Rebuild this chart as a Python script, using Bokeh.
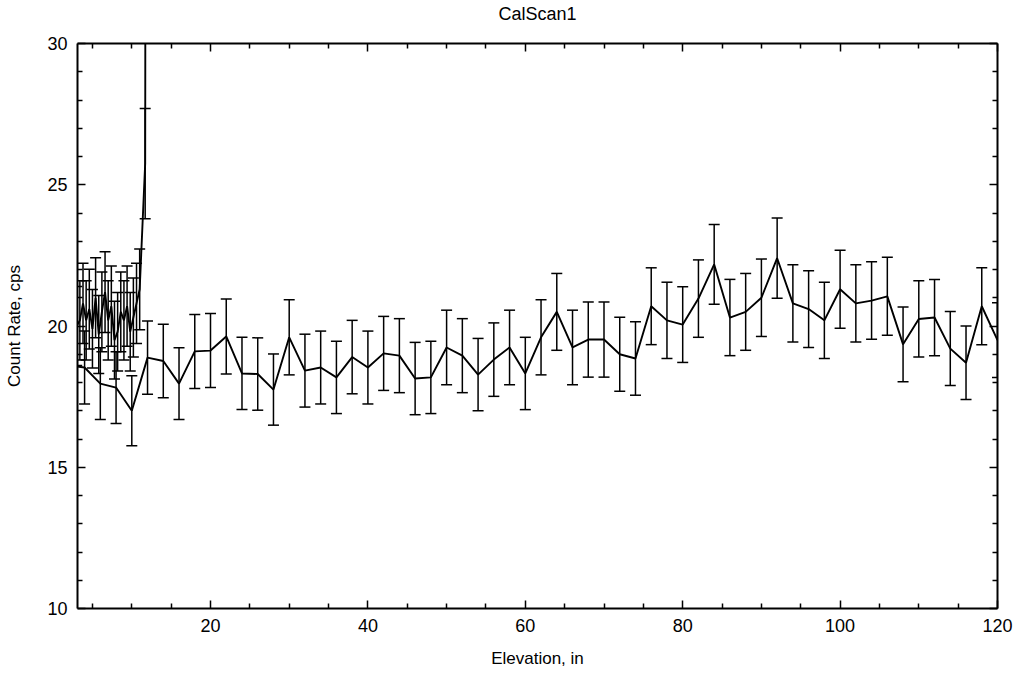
from bokeh.plotting import figure
from bokeh.models import ColumnDataSource, Whisker, TeeHead, LinearAxis, Range1d, FixedTicker
from bokeh.embed import file_html
from bokeh.resources import INLINE

# Main scan (every 2 in)
elev_main = [2, 4, 6, 8, 10, 12, 14, 16, 18, 20, 22, 24, 26, 28, 30, 32, 34, 36, 38, 40,
             42, 44, 46, 48, 50, 52, 54, 56, 58, 60, 62, 64, 66, 68, 70, 72, 74, 76, 78, 80,
             82, 84, 86, 88, 90, 92, 94, 96, 98, 100, 102, 104, 106, 108, 110, 112, 114, 116, 118, 120]
rate_main = [18.6, 18.53, 17.96, 17.82, 17.0, 18.88, 18.76, 17.96, 19.1, 19.13,
             19.63, 18.32, 18.3, 17.75, 19.6, 18.42, 18.53, 18.18, 18.9, 18.53,
             19.03, 18.95, 18.14, 18.18, 19.24, 18.95, 18.28, 18.81, 19.24, 18.32,
             19.6, 20.5, 19.24, 19.52, 19.52, 19.0, 18.85, 20.7, 20.2, 20.05,
             20.97, 22.18, 20.3, 20.5, 21.0, 22.4, 20.8, 20.6, 20.2, 21.3,
             20.8, 20.9, 21.05, 19.35, 20.25, 20.3, 19.2, 18.7, 20.7, 19.5]
err_main = [1.29, 1.29, 1.27, 1.27, 1.24, 1.30, 1.30, 1.27, 1.31, 1.31,
            1.33, 1.28, 1.28, 1.26, 1.33, 1.29, 1.29, 1.28, 1.30, 1.29,
            1.31, 1.31, 1.28, 1.28, 1.32, 1.31, 1.28, 1.30, 1.32, 1.28,
            1.33, 1.36, 1.32, 1.33, 1.33, 1.31, 1.30, 1.36, 1.35, 1.34,
            1.37, 1.41, 1.35, 1.36, 1.37, 1.42, 1.37, 1.36, 1.35, 1.38,
            1.37, 1.37, 1.38, 1.32, 1.35, 1.35, 1.31, 1.30, 1.36, 1.32]

# Dense start-up scan near the bottom
elev_dense = [3.0, 3.4, 3.8, 4.2, 4.6, 5.0, 5.4, 5.8, 6.2, 6.6, 7.0, 7.4, 7.8, 8.2, 8.6,
              9.0, 9.4, 9.8, 10.2, 10.6, 11.0, 11.7, 11.9]
rate_dense = [20.0, 20.2, 20.8, 20.2, 20.6, 19.9, 21.0, 19.7, 20.5, 21.2, 20.2, 20.7,
              19.5, 19.8, 20.5, 20.2, 20.7, 19.8, 20.3, 20.8, 21.3, 25.75, 80.0]
err_dense = [1.40, 1.40, 1.42, 1.40, 1.41, 1.39, 1.42, 1.38, 1.41, 1.43, 1.40, 1.42,
             1.38, 1.39, 1.41, 1.40, 1.42, 1.39, 1.40, 1.42, 1.43, 1.95, 2.5]

title_text = "CalScan1"
x_min, x_max = 3.1, 120
y_min, y_max = 10, 30

FONT = "Liberation Sans"

p = figure(width=1017, height=681, output_backend="svg", toolbar_location=None, title=None,
           x_range=Range1d(x_min, x_max), y_range=Range1d(y_min, y_max),
           min_border_left=77, min_border_right=20, min_border_top=43, min_border_bottom=73,
           background_fill_color="white", border_fill_color="white")
p.outline_line_color = None
p.grid.visible = False

def style_axis(ax, labels=True):
    ax.axis_line_width = 2
    ax.axis_line_color = "black"
    ax.major_tick_in = 8
    ax.major_tick_out = 0
    ax.minor_tick_in = 5
    ax.minor_tick_out = 0
    ax.major_tick_line_width = 1.5
    ax.minor_tick_line_width = 1.5
    ax.major_tick_line_color = "black"
    ax.minor_tick_line_color = "black"
    ax.major_label_text_font = FONT
    ax.major_label_text_font_size = "18px"
    ax.major_label_text_color = "black"
    ax.axis_label_text_font = FONT
    ax.axis_label_text_font_size = "17px"
    ax.axis_label_text_font_style = "normal"
    ax.axis_label_text_color = "black"
    if not labels:
        ax.major_label_text_font_size = "0px"
        ax.major_label_text_color = None
        ax.major_label_standoff = 0

xt = FixedTicker(ticks=[20, 40, 60, 80, 100, 120],
                 minor_ticks=[5, 10, 15, 25, 30, 35, 45, 50, 55, 65, 70, 75, 85, 90, 95, 105, 110, 115])
yt = FixedTicker(ticks=[10, 15, 20, 25, 30],
                 minor_ticks=[11, 12, 13, 14, 16, 17, 18, 19, 21, 22, 23, 24, 26, 27, 28, 29])

p.xaxis.ticker = xt
p.yaxis.ticker = yt
style_axis(p.xaxis[0])
style_axis(p.yaxis[0])
p.xaxis.axis_label = "Elevation, in"
p.yaxis.axis_label = "Count Rate, cps"
p.xaxis.major_label_standoff = 10
p.yaxis.major_label_standoff = 10
p.xaxis.axis_label_standoff = 14
p.yaxis.axis_label_standoff = 20

# top axis mirrors ticks and carries the chart title
top = LinearAxis(ticker=xt)
style_axis(top, labels=False)
top.axis_label = title_text
top.axis_label_text_font_size = "18px"
top.axis_label_standoff = 20
p.add_layout(top, "above")

right = LinearAxis(ticker=yt)
style_axis(right, labels=False)
p.add_layout(right, "right")

for xs, ys, es in [(elev_main, rate_main, err_main), (elev_dense, rate_dense, err_dense)]:
    src = ColumnDataSource(dict(x=xs, y=ys,
                                upper=[v + e for v, e in zip(ys, es)],
                                lower=[v - e for v, e in zip(ys, es)]))
    p.line("x", "y", source=src, line_color="black", line_width=1.9)
    w = Whisker(base="x", upper="upper", lower="lower", source=src,
                line_color="black", line_width=1.5,
                upper_head=TeeHead(size=11, line_color="black", line_width=1.5),
                lower_head=TeeHead(size=11, line_color="black", line_width=1.5))
    p.add_layout(w)

open("out.html", "w").write(file_html(p, INLINE))
